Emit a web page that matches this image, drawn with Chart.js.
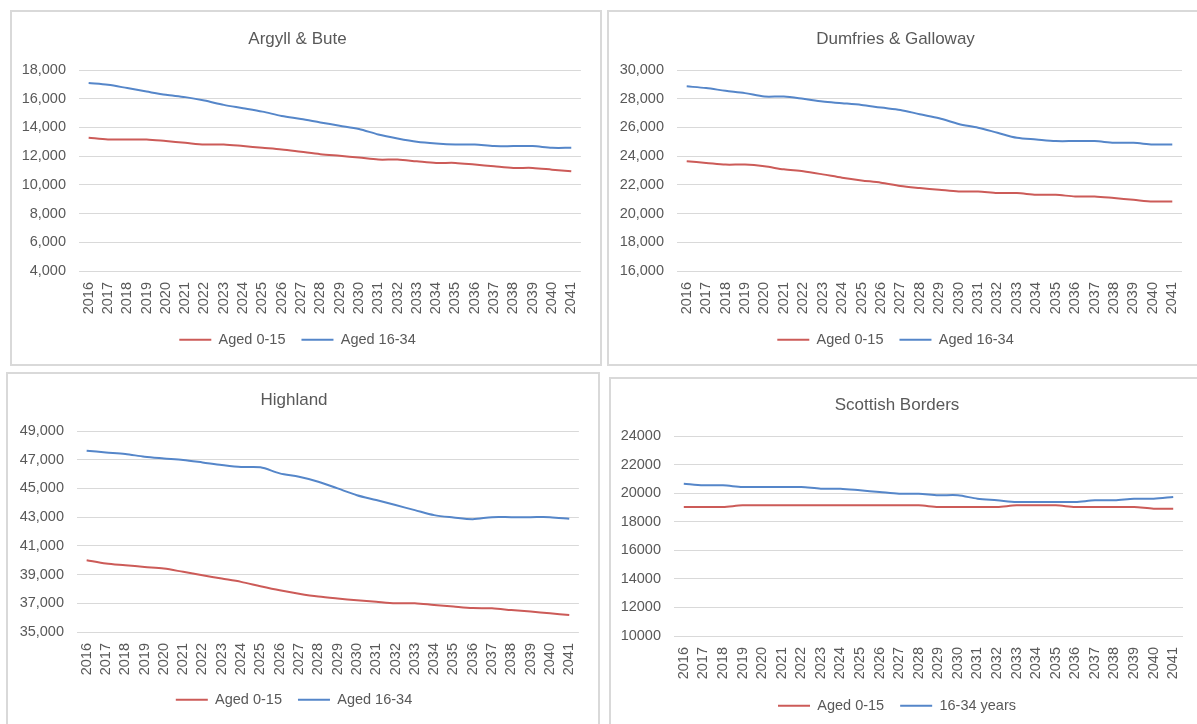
<!DOCTYPE html>
<html>
<head>
<meta charset="utf-8">
<script src="https://cdn.jsdelivr.net/npm/chart.js@4.4.1/dist/chart.umd.min.js"></script>
<style>
  body { margin: 0; width: 1197px; height: 724px; overflow: hidden; background: #fff; position: relative; }
  .panel { position: absolute; border: 2px solid #d9d9d9; background: #fff; }
  .panel canvas { display: block; }
</style>
</head>
<body>
<div class="panel" id="p1"><canvas id="c1"></canvas></div>
<div class="panel" id="p2"><canvas id="c2"></canvas></div>
<div class="panel" id="p3"><canvas id="c3"></canvas></div>
<div class="panel" id="p4"><canvas id="c4"></canvas></div>
<script>
// years on the x axis
const years = [];
for (let y = 2016; y <= 2041; y++) years.push(String(y));

// Argyll & Bute
const argyll015 = [13280, 13160, 13160, 13160, 13050, 12930, 12810, 12810, 12700, 12580, 12460, 12300, 12140,
                   12020, 11900, 11760, 11760, 11640, 11530, 11530, 11410, 11290, 11180, 11180, 11060, 10940];
const argyll1634 = [17090, 16970, 16740, 16500, 16270, 16110, 15870, 15570, 15340, 15100, 14800, 14590, 14350,
                    14120, 13890, 13510, 13230, 13000, 12880, 12810, 12810, 12700, 12700, 12700, 12580, 12580];

// Dumfries & Galloway
const dumfries015 = [23640, 23530, 23410, 23410, 23290, 23080, 22940, 22730, 22500, 22310, 22150, 21920, 21780,
                     21660, 21540, 21540, 21430, 21430, 21310, 21310, 21190, 21190, 21080, 20960, 20840, 20840];
const dumfries1634 = [28860, 28740, 28550, 28390, 28150, 28150, 27990, 27800, 27690, 27570, 27380, 27220, 26920,
                      26640, 26240, 25980, 25630, 25280, 25160, 25050, 25050, 25050, 24930, 24930, 24810, 24810];

// Highland
const highland015 = [40000, 39770, 39650, 39530, 39420, 39190, 38950, 38720, 38490, 38190, 37910, 37670, 37470,
                     37330, 37210, 37100, 37000, 37000, 36880, 36770, 36670, 36650, 36530, 36420, 36300, 36190];
const highland1634 = [47630, 47510, 47400, 47210, 47090, 46980, 46810, 46630, 46490, 46470, 46050, 45810, 45470,
                      45000, 44530, 44190, 43840, 43490, 43140, 42980, 42860, 43000, 43000, 43000, 43000, 42880];

// Scottish Borders
const borders015 = [19030, 19030, 19030, 19150, 19150, 19150, 19150, 19150, 19150, 19150, 19150, 19150, 19150,
                    19030, 19030, 19030, 19030, 19150, 19150, 19150, 19030, 19030, 19030, 19030, 18910, 18910];
const borders1634 = [20660, 20550, 20550, 20430, 20430, 20430, 20430, 20310, 20310, 20200, 20080, 19960, 19960,
                     19850, 19850, 19610, 19500, 19380, 19380, 19380, 19380, 19500, 19500, 19610, 19610, 19730];

const RED = '#cc5b58';
const BLUE = '#5586c9';
const TEXT = '#595959';
const FONT = "'Liberation Sans', Arial, sans-serif";

function fmtComma(v) { return v.toLocaleString('en-GB'); }
function fmtPlain(v) { return String(v); }

// panel: outer box + where the plot area sits inside it (outer coords)
const panels = [
  { id: 'c1', box: 'p1', left: 10, top: 10, w: 592, h: 356, plotL: 69, plotR: 573, plotT: 60, plotB: 261,
    titleY: 27, legB: 7, title: 'Argyll & Bute', a: argyll015, b: argyll1634, bLabel: 'Aged 16-34',
    min: 4000, max: 18000, fmt: fmtComma },
  { id: 'c2', box: 'p2', left: 607, top: 10, w: 600, h: 356, plotL: 70, plotR: 575, plotT: 60, plotB: 261,
    titleY: 27, legB: 7, title: 'Dumfries & Galloway', a: dumfries015, b: dumfries1634, bLabel: 'Aged 16-34',
    min: 16000, max: 30000, fmt: fmtComma },
  { id: 'c3', box: 'p3', left: 6, top: 372, w: 594, h: 362, plotL: 71, plotR: 574, plotT: 59, plotB: 260,
    titleY: 26, legB: 15, title: 'Highland', a: highland015, b: highland1634, bLabel: 'Aged 16-34',
    min: 35000, max: 49000, fmt: fmtComma },
  { id: 'c4', box: 'p4', left: 609, top: 377, w: 600, h: 362, plotL: 65, plotR: 574, plotT: 59, plotB: 259,
    titleY: 26, legB: 14, title: 'Scottish Borders', a: borders015, b: borders1634, bLabel: '16-34 years',
    min: 10000, max: 24000, fmt: fmtPlain }
];

const LEGEND_PAD = 16;

function makeChart(p) {
  const box = document.getElementById(p.box);
  box.style.left = p.left + 'px';
  box.style.top = p.top + 'px';
  const W = p.w - 4, H = p.h - 4;
  box.style.width = W + 'px';
  box.style.height = H + 'px';
  const cv = document.getElementById(p.id);
  cv.width = W; cv.height = H;
  cv.style.width = W + 'px'; cv.style.height = H + 'px';

  const plotL = p.plotL - 2, plotR = p.plotR - 2, plotT = p.plotT - 2, plotB = p.plotB - 2;
  const titleSize = 17;
  const tTop = p.titleY - titleSize * 1.2 / 2;
  const tBottom = plotT - tTop - titleSize * 1.2;

  new Chart(cv, {
    type: 'line',
    data: {
      labels: years,
      datasets: [
        { label: 'Aged 0-15', data: p.a, borderColor: RED, backgroundColor: RED, borderWidth: 2,
          pointRadius: 0, tension: 0.3, fill: false },
        { label: p.bLabel, data: p.b, borderColor: BLUE, backgroundColor: BLUE, borderWidth: 2,
          pointRadius: 0, tension: 0.3, fill: false }
      ]
    },
    options: {
      responsive: false,
      animation: false,
      events: [],
      layout: { padding: { left: 0, right: W - plotR, top: 0, bottom: p.legB } },
      plugins: {
        tooltip: { enabled: false },
        title: {
          display: true, text: p.title, color: TEXT,
          font: { family: FONT, size: titleSize, weight: 'normal' },
          padding: { top: tTop, bottom: tBottom }
        },
        legend: {
          position: 'bottom',
          labels: {
            color: TEXT, boxWidth: 32, boxHeight: 2, padding: LEGEND_PAD,
            font: { family: FONT, size: 14.5 },
            generateLabels: (chart) => Chart.defaults.plugins.legend.labels.generateLabels(chart)
              .map(l => Object.assign(l, { lineWidth: 0 }))
          }
        }
      },
      scales: {
        x: {
          offset: true,
          grid: { display: false, drawTicks: false },
          border: { display: false },
          ticks: { color: TEXT, font: { family: FONT, size: 14.5 }, maxRotation: 90, minRotation: 90,
                   autoSkip: false, padding: 11 },
          afterFit: (s) => {
            const leg = s.chart.legend ? s.chart.legend.height : 0;
            s.height = H - p.legB - leg - plotB;
          }
        },
        y: {
          min: p.min, max: p.max,
          grid: { color: '#d9d9d9', lineWidth: 1, drawTicks: false },
          border: { display: false },
          ticks: { stepSize: 2000, color: TEXT, font: { family: FONT, size: 14.5 }, padding: 13,
                   callback: (v) => p.fmt(v) },
          afterFit: (s) => { s.width = plotL; }
        }
      }
    }
  });
}

panels.forEach(makeChart);
</script>
</body>
</html>
